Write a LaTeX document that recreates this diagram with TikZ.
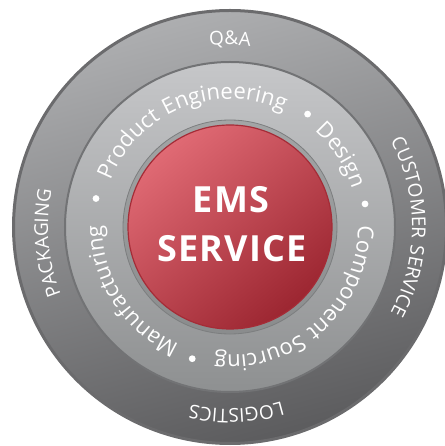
\documentclass[tikz,border=0pt]{standalone}
\usepackage{fontspec}
\setmainfont{Open Sans}
\newfontfamily\ringfont[LetterSpace=5]{Open Sans}
\newfontfamily\outerfont[LetterSpace=7]{Open Sans}
\newfontfamily\emsfont[LetterSpace=3]{Open Sans}
\usetikzlibrary{decorations.text}

\definecolor{outerTop}{HTML}{ADAEB0}
\definecolor{outerBot}{HTML}{5C5C5E}
\definecolor{outerEdge}{HTML}{6B6B6D}
\definecolor{midTop}{HTML}{C6C7C9}
\definecolor{midBot}{HTML}{8E9091}
\definecolor{midEdge}{HTML}{727375}
\definecolor{innTop}{HTML}{A3A5A6}
\definecolor{innBot}{HTML}{8A8C8D}
\definecolor{redTop}{HTML}{E06A74}
\definecolor{redMid}{HTML}{BC3843}
\definecolor{redBot}{HTML}{9C2631}
\definecolor{redEdge}{HTML}{A52C37}

\newcommand\midsty{\ringfont\fontsize{22pt}{22pt}\selectfont}
\newcommand\outsty{\outerfont\fontsize{19pt}{19pt}\selectfont}

\begin{document}
\begin{tikzpicture}[
    midtext/.style={decorate, decoration={text along path, text align=center,
        text color=white, text={|\midsty|#1}}},
    outtext/.style={decorate, decoration={text along path, text align=center,
        text color=white, text={|\outsty|#1}}},
    emstext/.style={white, font=\emsfont\fontsize{36pt}{36pt}\selectfont\bfseries, anchor=base}]
  \useasboundingbox (-230pt,-219pt) rectangle (214pt,227pt);
  \coordinate (c) at (0,0);

  % rings
  \shade[top color=outerTop, bottom color=outerBot, shading angle=15,
    draw=outerEdge, line width=3pt] (c) circle[radius=216.5pt];
  \shade[top color=midTop, bottom color=midBot,
    draw=midEdge, line width=2pt] (c) circle[radius=165pt];
  \shade[top color=innTop, bottom color=innBot,
    draw=innBot!90!black, line width=0.8pt] (c) circle[radius=107pt];
  \shade[top color=redTop, middle color=redMid, bottom color=redBot, shading angle=40,
    draw=redEdge, line width=1.2pt] (c) circle[radius=102pt];

  % middle ring
  \path[midtext={Product Engineering}] (c) ++(182:128pt) arc[start angle=182, end angle=42, radius=128pt];
  \path[midtext={Design}] (c) ++(63:128pt) arc[start angle=63, end angle=3, radius=128pt];
  \path[midtext={Component Sourcing}] (c) ++(22:128pt) arc[start angle=22, end angle=-118, radius=128pt];
  \path[midtext={Manufacturing}] (c) ++(-97:128pt) arc[start angle=-97, end angle=-197, radius=128pt];
  \foreach \a in {168,55.5,9.7,-106}
    \fill[white] (c) ++(\a:137pt) circle[radius=3.4pt];

  % outer ring
  \path[outtext={Q{\&}A}] (c) ++(120:182pt) arc[start angle=120, end angle=60, radius=182pt];
  \path[outtext={CUSTOMER SERVICE}] (c) ++(50:182pt) arc[start angle=50, end angle=-50, radius=182pt];
  \path[outtext={LOGISTICS}] (c) ++(-58:182pt) arc[start angle=-58, end angle=-118, radius=182pt];
  \path[outtext={PACKAGING}] (c) ++(215:182pt) arc[start angle=215, end angle=155, radius=182pt];

  % centre
  \node[emstext] (ems) at (1pt,14pt) {EMS};
  \node[emstext] (service) at (2pt,-35pt) {SERVICE};
\end{tikzpicture}
\end{document}
